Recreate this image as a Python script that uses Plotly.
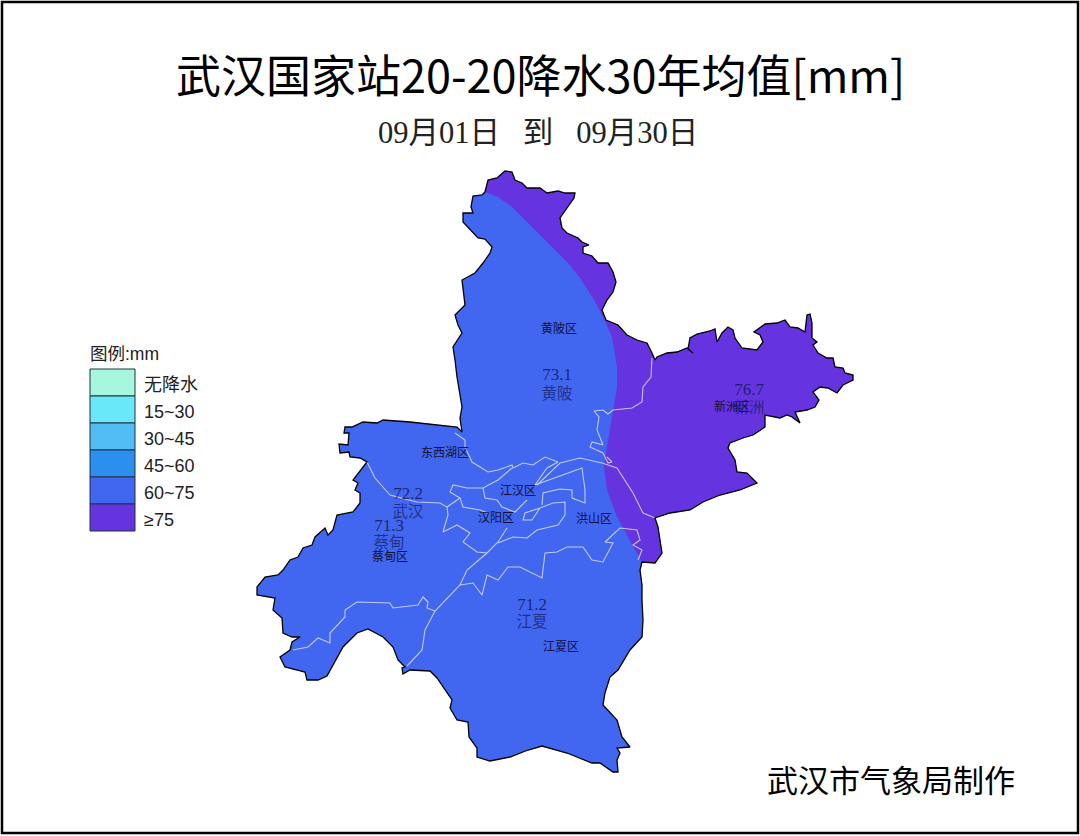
import plotly.graph_objects as go

# 边界和区界
east_edge = [(485,192),(488,180),(497,178),(505,171),(512,172),(515,180),(522,183),(527,188),(540,188),(547,193),(558,191),(565,193),(575,193),(574,198),(567,208),(560,218),(562,228),(567,233),(578,238),(582,242),(589,245),(583,247),(583,253),(592,256),(598,263),(608,263),(613,272),(616,282),(613,292),(607,300),(602,310),(606,320),(618,325),(623,331),(627,335),(637,340),(647,343),(652,353),(655,360),(657,357),(667,353),(677,352),(687,348),(693,353),(688,349),(690,338),(697,334),(710,331),(715,329),(717,342),(722,333),(728,327),(733,330),(735,338),(742,348),(757,350),(763,342),(760,335),(754,332),(765,324),(777,323),(785,320),(790,327),(798,328),(805,332),(807,315),(810,314),(812,323),(812,338),(817,342),(813,345),(818,353),(827,358),(833,358),(835,367),(843,368),(845,373),(853,375),(853,380),(843,385),(837,393),(828,388),(820,387),(813,392),(819,400),(815,407),(807,410),(795,412),(800,423),(792,417),(787,415),(780,418),(765,415),(765,427),(753,435),(743,438),(730,443),(728,448),(735,460),(737,472),(747,473),(757,483),(740,490),(720,495),(703,502),(690,510),(670,513),(655,518),(658,527),(660,540),(662,553),(655,563),(642,562)]
west_edge = [(640,570),(642,585),(642,600),(643,620),(642,637),(630,650),(618,670),(610,677),(605,693),(603,705),(617,720),(622,737),(630,747),(617,748),(620,753),(617,760),(618,772),(613,772),(600,763),(592,763),(567,753),(542,746),(528,750),(510,757),(490,761),(477,757),(477,748),(469,737),(468,722),(457,720),(450,708),(452,700),(437,678),(430,671),(410,670),(403,674),(402,668),(405,667),(398,660),(393,647),(383,637),(368,629),(357,633),(343,647),(327,676),(318,680),(307,680),(305,672),(285,667),(280,657),(290,650),(292,642),(300,637),(292,637),(283,633),(282,618),(273,610),(275,598),(257,595),(257,587),(265,577),(278,575),(283,570),(290,560),(298,557),(303,548),(312,545),(315,537),(325,528),(328,535),(333,530),(337,515),(353,512),(360,503),(360,493),(355,490),(358,483),(353,480),(367,462),(360,458),(350,457),(349,452),(340,453),(339,444),(348,445),(349,433),(344,433),(345,427),(352,427),(363,422),(377,423),(383,420),(410,422),(437,425),(457,427),(462,432),(460,418),(462,407),(457,377),(455,360),(453,347),(462,333),(458,325),(455,315),(465,305),(462,280),(475,273),(483,263),(490,253),(492,247),(485,239),(478,238),(468,228),(463,222),(463,213),(473,213),(471,207),(473,196),(482,195),(485,192)]
# 60~75 与 ≥75 的分界
contour_75 = [(485,192),(498,197),(512,207),(530,225),(550,245),(568,263),(580,278),(593,298),(603,317),(612,337),(617,367),(617,387),(613,413),(607,447),(604,467),(607,490),(617,517),(628,537),(642,562)]

district_lines = [
    [(652,358),(651,377),(643,387),(642,402),(632,408),(613,410),(608,414),(603,410),(594,411),(599,417),(597,430),(603,445),(592,442),(590,447),(603,453),(608,463),(612,462),(607,457)],
    [(537,485),(560,463),(580,458),(602,463),(617,468),(633,493),(643,513),(655,518)],
    [(455,433),(465,440),(465,447),(472,462),(488,472),(498,470),(512,465),(513,468),(523,463),(533,465),(545,457),(558,462)],
    [(512,468),(498,480),(483,488),(467,488),(453,485),(450,492),(460,498),(447,507)],
    [(367,462),(375,478),(390,495),(417,502),(440,503),(447,507),(448,515),(443,532),(457,525),(470,533),(463,542),(477,552),(487,553)],
    [(460,498),(463,507),(480,510),(488,513)],
    [(483,488),(485,498),(497,500),(502,507),(515,512),(527,500)],
    [(507,528),(498,542),(487,553),(467,570),(460,585),(435,611),(425,630),(422,650),(407,666)],
    [(435,611),(427,608),(428,602),(423,597),(418,605),(393,608),(390,603),(357,602),(345,610),(345,617),(330,633),(330,643),(318,638),(308,647),(293,650)],
    [(460,585),(473,583),(482,595),(487,575),(498,580),(508,567),(520,567),(542,578),(545,553),(557,552),(567,547),(583,547),(592,560),(603,562),(613,543),(605,542),(620,528),(637,530),(640,540),(633,545),(642,550),(638,560)],
    [(498,543),(513,537),(527,538),(537,530),(558,525),(565,515),(565,502),(553,503),(540,508),(525,513),(523,520),(532,520),(540,508)],
    [(535,485),(582,468),(585,490),(585,503),(572,498),(572,490),(560,489),(543,493),(542,505)],
    [(535,485),(547,468),(558,462)],
]

legend_labels = ['无降水', '15~30', '30~45', '45~60', '60~75', '≥75']
legend_colors = ['#A6F7DD', '#68E8F8', '#50BEF5', '#2A8FEE', '#4166F0', '#6534E0']

district_names = ['黄陂区', '东西湖区', '江汉区', '汉阳区', '洪山区', '蔡甸区', '江夏区', '新洲区']
district_x = [559, 445, 518, 496, 594, 390, 561, 732]
district_y = [330, 454, 492, 519, 520, 558, 648, 408]

station_values = ['73.1', '76.7', '72.2', '71.3', '71.2']
station_names = ['黄陂', '新洲', '武汉', '蔡甸', '江夏']
station_x = [557, 749, 408, 389, 532]
station_value_y = [376, 391, 495, 527, 606]
station_name_y = [395, 409, 513, 544, 623]

fig = go.Figure()


def add_poly(points, color):
    fig.add_trace(go.Scatter(
        x=[p[0] for p in points],
        y=[p[1] for p in points],
        mode='lines',
        fill='toself',
        fillcolor=color,
        line=dict(width=0),
        hoverinfo='skip'
    ))


# 填色
add_poly(east_edge + west_edge, '#4166F0')
add_poly(east_edge + contour_75[::-1], '#6534E0')

# 区界
for seg in district_lines:
    fig.add_trace(go.Scatter(
        x=[p[0] for p in seg],
        y=[p[1] for p in seg],
        mode='lines',
        line=dict(color='rgba(225,228,240,0.8)', width=1.1),
        hoverinfo='skip'
    ))

# 外边界
outline = east_edge + west_edge
fig.add_trace(go.Scatter(
    x=[p[0] for p in outline],
    y=[p[1] for p in outline],
    mode='lines',
    line=dict(color='black', width=1.3),
    hoverinfo='skip'
))

# 区名
fig.add_trace(go.Scatter(
    x=district_x,
    y=district_y,
    mode='text',
    text=district_names,
    textposition='middle center',
    textfont=dict(family='Noto Sans CJK SC', size=12, color='#10103a'),
    hoverinfo='skip'
))

# 站点数值和站名
fig.add_trace(go.Scatter(
    x=station_x,
    y=station_value_y,
    mode='text',
    text=station_values,
    textposition='middle center',
    textfont=dict(family='Liberation Serif', size=17, color='rgba(20,25,90,0.85)'),
    hoverinfo='skip'
))
fig.add_trace(go.Scatter(
    x=station_x,
    y=station_name_y,
    mode='text',
    text=station_names,
    textposition='middle center',
    textfont=dict(family='Noto Sans CJK SC', size=15.5, color='rgba(20,25,90,0.7)'),
    hoverinfo='skip'
))

# 图例
shapes = [dict(type='rect', xref='x', yref='y', x0=2, y0=2, x1=1078, y1=833,
               line=dict(color='black', width=2.5), fillcolor='rgba(0,0,0,0)')]
annotations = []
for i, (lab, col) in enumerate(zip(legend_labels, legend_colors)):
    shapes.append(dict(type='rect', xref='x', yref='y', x0=90, x1=135,
                       y0=369 + 27 * i, y1=396 + 27 * i,
                       line=dict(color='#203040', width=1), fillcolor=col))
    annotations.append(dict(x=142, y=385 + 27 * i, text=lab, showarrow=False, xanchor='left',
                            font=dict(family='Liberation Sans, Noto Sans CJK SC', size=18, color='#222222')))
annotations.append(dict(x=88, y=354, text='图例:mm', showarrow=False, xanchor='left',
                        font=dict(family='Liberation Sans, Noto Sans CJK SC', size=17.5, color='#222222')))

annotations.append(dict(x=540, y=73, text='武汉国家站20-20降水30年均值[mm]', showarrow=False,
                        font=dict(family='Noto Sans CJK SC', size=45, color='black')))
annotations.append(dict(x=538, y=133, text='09月01日   到   09月30日', showarrow=False,
                        font=dict(family='Liberation Serif, Noto Sans CJK SC', size=30.5, color='#222222')))
annotations.append(dict(x=891, y=778, text='武汉市气象局制作', showarrow=False,
                        font=dict(family='Noto Sans CJK SC', size=31, color='black')))

fig.update_layout(
    width=1080,
    height=836,
    margin=dict(l=0, r=0, t=0, b=0),
    paper_bgcolor='white',
    plot_bgcolor='white',
    showlegend=False,
    xaxis=dict(range=[0, 1080], visible=False, fixedrange=True),
    yaxis=dict(range=[836, 0], visible=False, fixedrange=True),
    shapes=shapes,
    annotations=annotations
)

fig.write_html("out.html", config=dict(displayModeBar=False),
               post_script="document.body.style.margin='0';")
